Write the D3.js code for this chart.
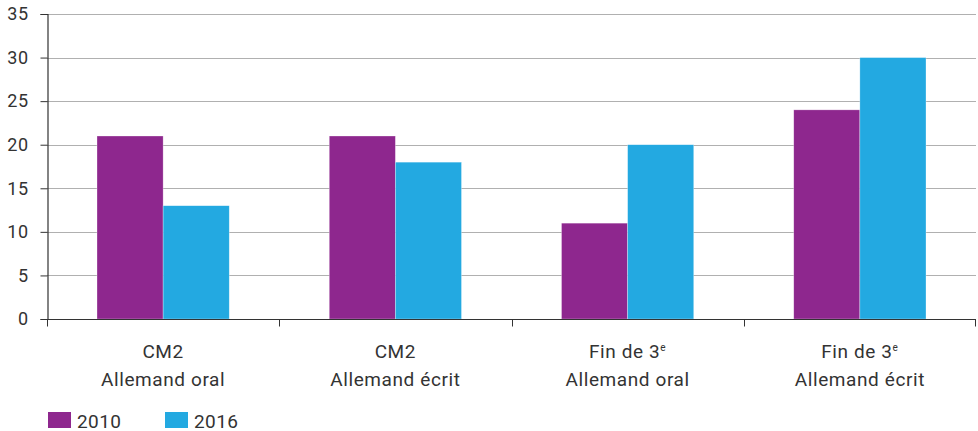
<!DOCTYPE html>
<html>
<head>
<meta charset="utf-8">
<script src="https://cdn.jsdelivr.net/npm/d3@7"></script>
<style>
  body { margin: 0; background: #fff; }
  svg { display: block; font-family: Roboto, "Open Sans", sans-serif; }
</style>
</head>
<body>
<div id="chart"></div>
<script>
// data
const categories = ['CM2|Allemand oral', 'CM2|Allemand écrit', 'Fin de 3^e|Allemand oral', 'Fin de 3^e|Allemand écrit'];
const series = ['2010', '2016'];
const values2010 = [21, 21, 11, 24];
const values2016 = [13, 18, 20, 30];
const yTicks = [0, 5, 10, 15, 20, 25, 30, 35];
const colors = ['#8e278e', '#23a9e1'];

const width = 978, height = 431;
const margin = { top: 14, right: 2, bottom: 112, left: 47 };

const svg = d3.select('#chart').append('svg')
  .attr('width', width)
  .attr('height', height);

const x0 = d3.scaleBand()
  .domain(categories)
  .range([margin.left, width - margin.right])
  .padding(0);

const gap = 50;
const x1 = d3.scaleBand()
  .domain(series)
  .range([gap, x0.bandwidth() - gap])
  .padding(0);

const y = d3.scaleLinear()
  .domain([0, 35])
  .range([height - margin.bottom, margin.top]);

// grid
svg.append('g')
  .selectAll('line')
  .data(yTicks.filter(d => d > 0))
  .join('line')
  .attr('x1', margin.left)
  .attr('x2', width - margin.right)
  .attr('y1', d => Math.round(y(d)) + 0.5)
  .attr('y2', d => Math.round(y(d)) + 0.5)
  .attr('stroke', '#b0b0b0')
  .attr('stroke-width', 1);

// bars
const rows = categories.map((c, i) => ({ cat: c, vals: [values2010[i], values2016[i]] }));
svg.append('g')
  .selectAll('g')
  .data(rows)
  .join('g')
  .attr('transform', d => `translate(${x0(d.cat)},0)`)
  .selectAll('rect')
  .data(d => d.vals.map((v, j) => ({ key: series[j], v, j })))
  .join('rect')
  .attr('x', d => x1(d.key))
  .attr('width', x1.bandwidth())
  .attr('y', d => y(d.v))
  .attr('height', d => y(0) - y(d.v))
  .attr('fill', d => colors[d.j])
  .attr('stroke', '#fff')
  .attr('stroke-opacity', 0.5)
  .attr('stroke-width', 0.6);

// y axis
const yAxis = svg.append('g')
  .attr('transform', `translate(${margin.left + 0.5},0)`)
  .call(d3.axisLeft(y).tickValues(yTicks).tickSize(7).tickPadding(12));
yAxis.select('.domain').attr('stroke', '#333').attr('stroke-width', 1.2);
yAxis.selectAll('.tick line').attr('stroke', '#333');
yAxis.selectAll('.tick text')
  .attr('fill', '#333')
  .style('font-size', '18px')
  .style('letter-spacing', '0.5px')
  .style('font-family', 'Roboto, sans-serif');

// x axis
const xAxis = svg.append('g')
  .attr('transform', `translate(0,${Math.round(y(0)) + 0.5})`);
xAxis.append('line')
  .attr('x1', margin.left)
  .attr('x2', width - margin.right)
  .attr('stroke', '#333')
  .attr('stroke-width', 1.2);
const bounds = categories.map(c => x0(c)).concat([x0.range()[1] - 1]);
xAxis.selectAll('.xt')
  .data(bounds)
  .join('line')
  .attr('class', 'xt')
  .attr('x1', d => Math.round(d) + 0.5)
  .attr('x2', d => Math.round(d) + 0.5)
  .attr('y1', 0)
  .attr('y2', 7)
  .attr('stroke', '#333');

const labels = xAxis.selectAll('.xl')
  .data(categories)
  .join('text')
  .attr('class', 'xl')
  .attr('text-anchor', 'middle')
  .attr('fill', '#333')
  .style('font-size', '19px')
  .style('letter-spacing', '0.6px');

labels.each(function (d) {
  const cx = x0(d) + x0.bandwidth() / 2;
  const [l1, l2] = d.split('|');
  const t = d3.select(this);
  const p = l1.split('^');
  const first = t.append('tspan').attr('x', cx).attr('y', 38);
  first.append('tspan').text(p[0]);
  if (p[1]) {
    first.append('tspan').attr('dy', -7).style('font-size', '10px').text(p[1]);
  }
  t.append('tspan').attr('x', cx).attr('y', 66).text(l2);
});

// legend
const legend = svg.append('g')
  .attr('transform', `translate(48,${height - 19})`);
const items = legend.selectAll('g')
  .data(series)
  .join('g')
  .attr('transform', (d, i) => `translate(${i * 117},0)`);
items.append('rect')
  .attr('width', 23)
  .attr('height', 16)
  .attr('fill', (d, i) => colors[i]);
items.append('text')
  .attr('x', 29)
  .attr('y', 15.5)
  .attr('fill', '#333')
  .style('font-size', '19px')
  .style('letter-spacing', '0.4px')
  .text(d => d);
</script>
</body>
</html>
